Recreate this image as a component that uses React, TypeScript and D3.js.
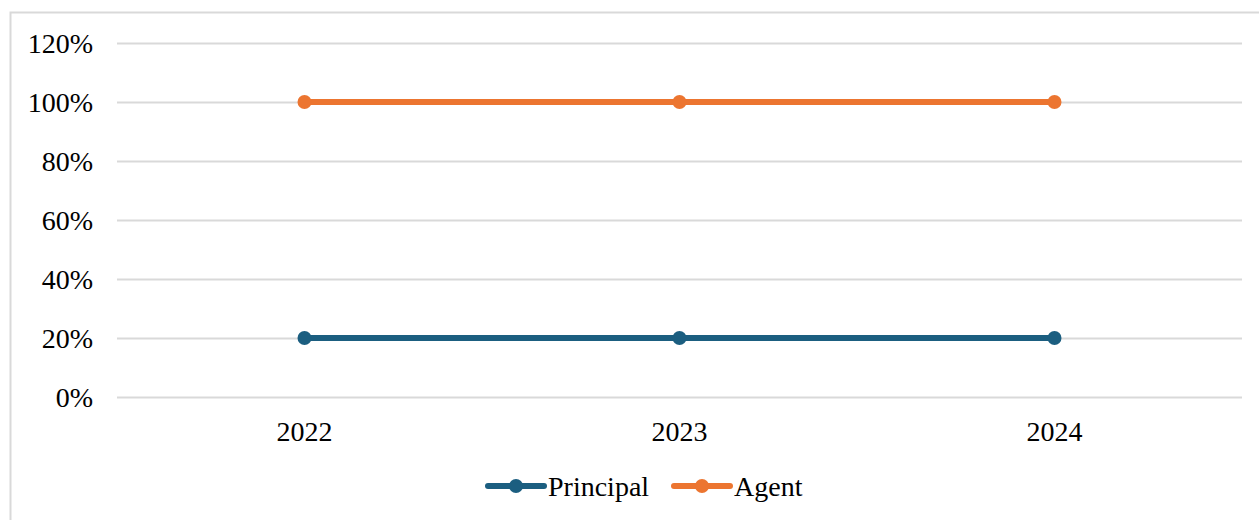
import React, { useEffect, useRef } from "react";
import * as d3 from "d3";

const years = ["2022", "2023", "2024"];
const principal = [0.2, 0.2, 0.2];
const agent = [1.0, 1.0, 1.0];
const yTicks = [0, 0.2, 0.4, 0.6, 0.8, 1.0, 1.2];

const seriesList = [
  { name: "Principal", values: principal, color: "#1B5E80" },
  { name: "Agent", values: agent, color: "#EC7530" },
];

export default function App() {
  const ref = useRef<SVGSVGElement>(null);
  const width = 1259;
  const height = 520;
  const marginLeft = 117;
  const marginRight = 17;
  const marginTop = 43;
  const marginBottom = 123;
  const font = "'Liberation Serif', 'Times New Roman', serif";
  const fontSize = "28px";

  useEffect(() => {
    document.body.style.margin = "0";
    const svg = d3.select(ref.current);
    svg.selectAll("*").remove();

    const x = d3
      .scaleBand()
      .domain(years)
      .range([marginLeft, width - marginRight]);

    const y = d3
      .scaleLinear()
      .domain([0, 1.2])
      .range([height - marginBottom, marginTop]);

    // chart frame
    svg
      .append("rect")
      .attr("x", 10.5)
      .attr("y", 12.5)
      .attr("width", width + 20)
      .attr("height", height + 20)
      .attr("fill", "white")
      .attr("stroke", "#d9d9d9")
      .attr("stroke-width", 2);

    // grid lines + y labels
    svg
      .append("g")
      .attr("transform", `translate(${marginLeft},0)`)
      .call(
        d3
          .axisLeft(y)
          .tickValues(yTicks)
          .tickFormat(d3.format(".0%"))
          .tickSize(0)
          .tickPadding(24)
      )
      .call((g) => g.select(".domain").remove())
      .call((g) =>
        g
          .selectAll(".tick line")
          .attr("x2", width - marginLeft - marginRight)
          .attr("stroke", "#d9d9d9")
          .attr("stroke-width", 2)
      )
      .call((g) =>
        g
          .selectAll(".tick text")
          .style("font-family", font)
          .style("font-size", fontSize)
          .attr("fill", "#000")
          .attr("dy", "0.34em")
      );

    // x labels
    svg
      .append("g")
      .attr("transform", `translate(0,${height - marginBottom})`)
      .call(d3.axisBottom(x).tickSize(0).tickPadding(24))
      .call((g) => g.select(".domain").remove())
      .call((g) =>
        g
          .selectAll(".tick text")
          .style("font-family", font)
          .style("font-size", fontSize)
          .attr("fill", "#000")
      );

    const cx = (d: string) => (x(d) as number) + x.bandwidth() / 2;

    const line = d3
      .line<number>()
      .x((_, i) => cx(years[i]))
      .y((d) => y(d));

    seriesList.forEach((s) => {
      svg
        .append("path")
        .datum(s.values)
        .attr("fill", "none")
        .attr("stroke", s.color)
        .attr("stroke-width", 6)
        .attr("stroke-linecap", "round")
        .attr("d", line);
      svg
        .append("g")
        .selectAll("circle")
        .data(s.values)
        .join("circle")
        .attr("cx", (_, i) => cx(years[i]))
        .attr("cy", (d) => y(d))
        .attr("r", 7)
        .attr("fill", s.color);
    });

    // legend
    const legendY = 486;
    const legendStarts = [488, 674];
    seriesList.forEach((s, i) => {
      const g = svg
        .append("g")
        .attr("transform", `translate(${legendStarts[i]},${legendY})`);
      g.append("line")
        .attr("x1", 0)
        .attr("x2", 56)
        .attr("stroke", s.color)
        .attr("stroke-width", 6)
        .attr("stroke-linecap", "round");
      g.append("circle").attr("cx", 28).attr("r", 7).attr("fill", s.color);
      g.append("text")
        .attr("x", 60)
        .attr("dy", "0.34em")
        .style("font-family", font)
        .style("font-size", fontSize)
        .attr("fill", "#000")
        .text(s.name);
    });
  }, []);

  return <svg ref={ref} width={width} height={height}></svg>;
}
